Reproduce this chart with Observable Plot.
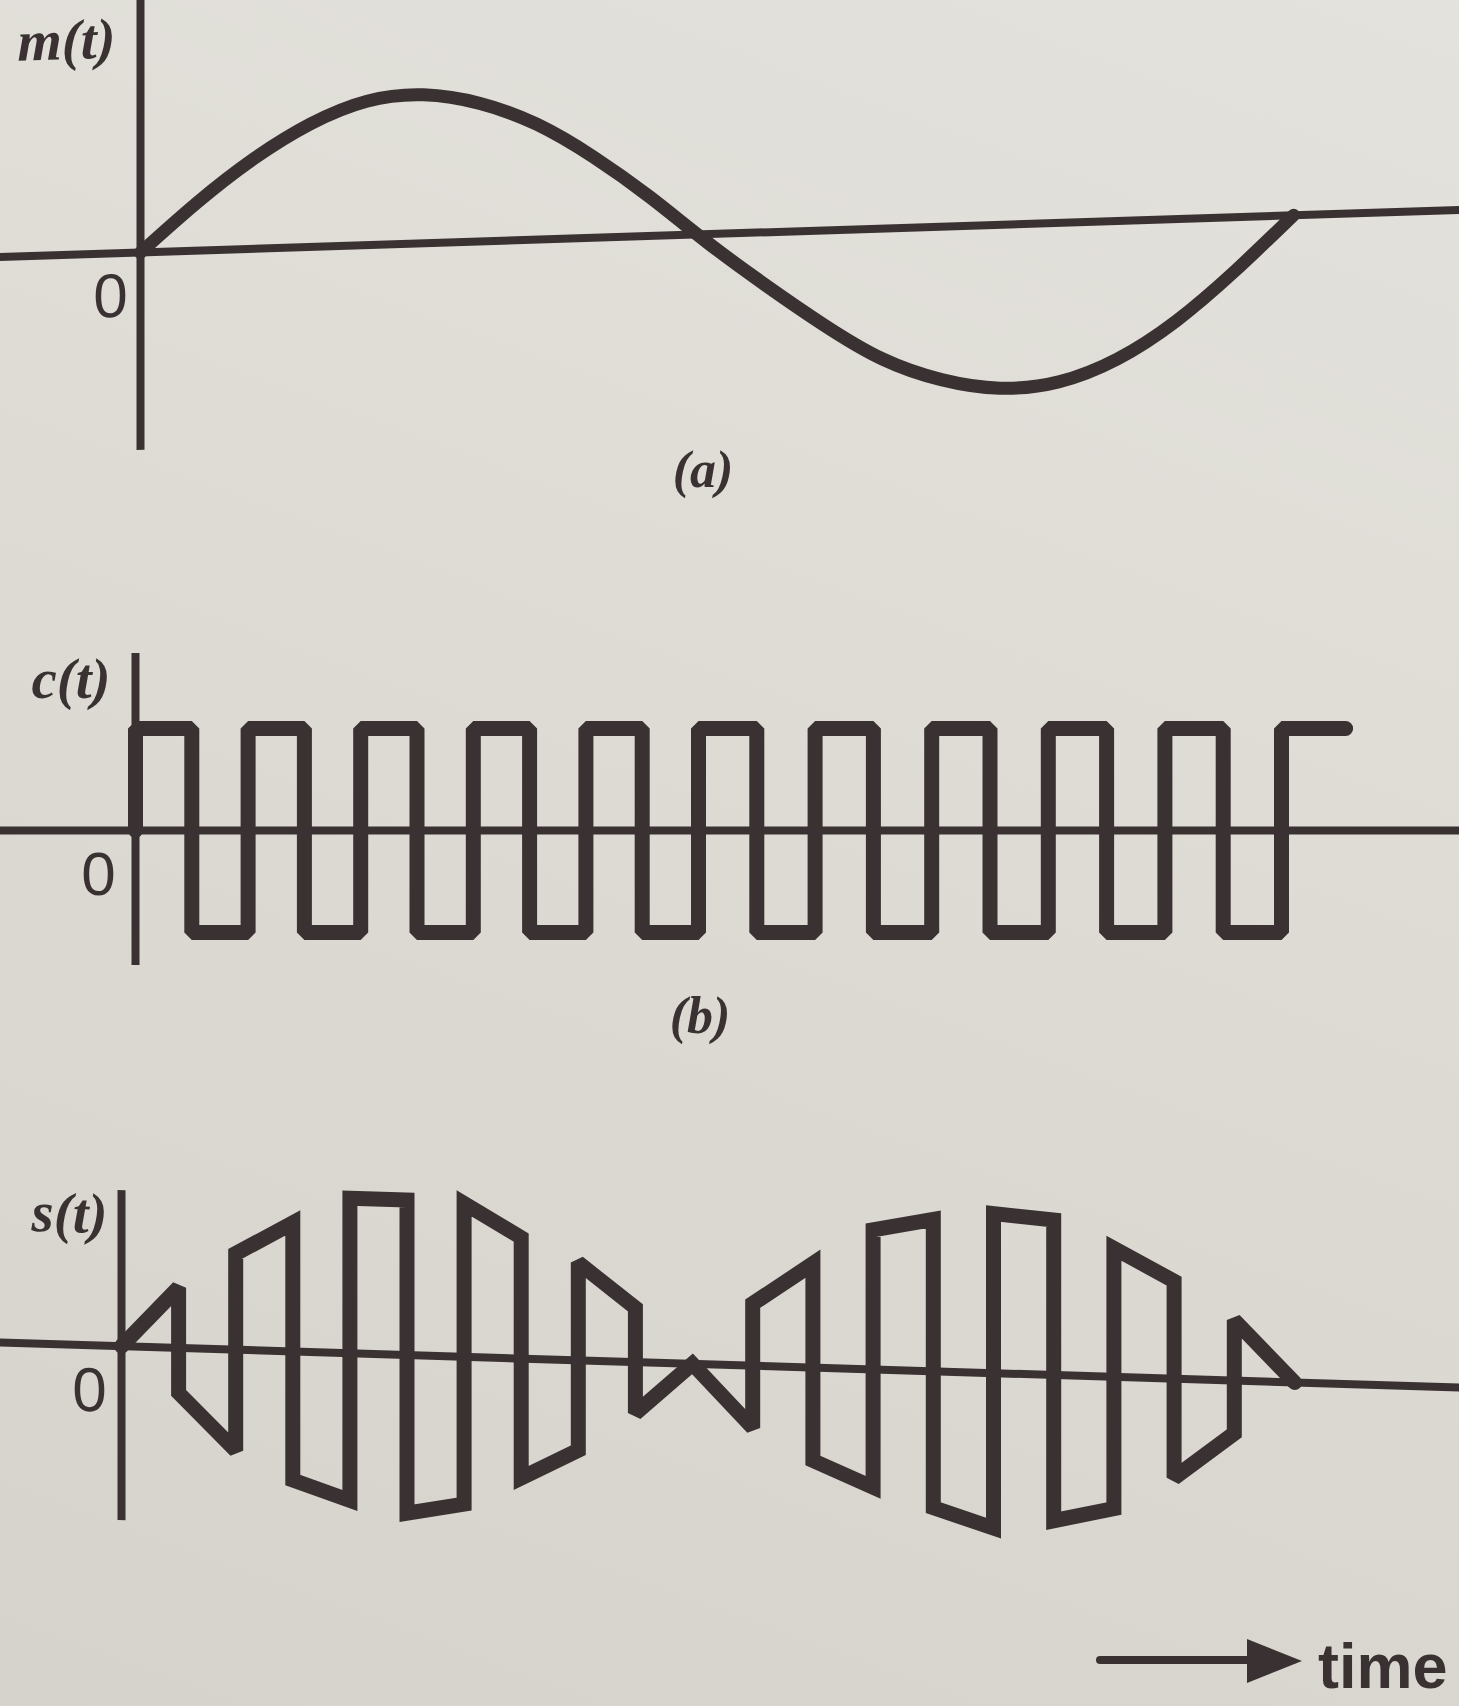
<!DOCTYPE html>
<html>
<head>
<meta charset="utf-8">
<script src="https://cdn.jsdelivr.net/npm/d3@7"></script>
<script src="https://cdn.jsdelivr.net/npm/@observablehq/plot@0.6"></script>
<style>
  html, body { margin: 0; padding: 0; }
  body { width: 1459px; height: 1706px; overflow: hidden; background: #dddbd4; }
  #fig {
    position: relative; width: 1459px; height: 1706px;
    background: linear-gradient(200deg, #e4e2dc 0%, #dddbd4 45%, #d5d3cb 100%);
  }
  .cap {
    position: absolute; transform: translate(-50%, -50%);
    font-family: "Liberation Serif", serif; font-style: italic; font-weight: bold;
    font-size: 52px; line-height: 1; color: #3a3232; white-space: nowrap;
  }
</style>
</head>
<body>
<div id="fig"></div>
<script>
// ---------------- data ----------------
// time is counted in carrier half-periods: 20 half-periods = one period of m(t)
const tSteps = d3.range(0, 21);
// (a) message m(t), read at every carrier half-period (1 = height of the positive lobe)
const mValues = [0, 0.32, 0.60, 0.82, 0.96, 0.99, 0.92, 0.77, 0.54, 0.26, -0.05,
                 -0.35, -0.63, -0.87, -1.02, -1.09, -1.06, -0.92, -0.68, -0.36, 0];
// (b) carrier c(t): level after each switching instant
const cEdges = d3.range(0, 21);
const cLevels = [1, -1, 1, -1, 1, -1, 1, -1, 1, -1, 1, -1, 1, -1, 1, -1, 1, -1, 1, -1, 1];
const cTailEnd = 21.1;
// (c) product s(t): value at the start and at the end of each half-period
const sHalf = d3.range(0, 20);
const sStart = [0, -0.29, 0.62, -0.83, 1.00, -1.02, 0.99, -0.77, 0.63, -0.33,
                0, 0.40, -0.60, 0.90, -0.88, 1.03, -0.94, 0.83, -0.64, 0.39];
const sEnd   = [0.39, -0.65, 0.83, -0.95, 1.00, -0.95, 0.78, -0.58, 0.35, 0,
                -0.40, 0.67, -0.76, 0.98, -1.00, 1.00, -0.85, 0.63, -0.34, 0];
// texts
const axisLabels = ["m(t)", "c(t)", "s(t)"];
const zeroTick = [0];
const captions = ["(a)", "(b)"];
const timeLabel = "time";

// ---------------- tables built from the arrays ----------------
const mData = tSteps.map((t, i) => ({t, v: mValues[i]}));
const cData = [{t: 0, v: 0}]
  .concat(cEdges.map((t, i) => ({t, v: cLevels[i]})))
  .concat([{t: cTailEnd, v: cLevels[cLevels.length - 1]}]);
const sData = sHalf.flatMap(k => [{t: k, v: sStart[k]}, {t: k + 1, v: sEnd[k]}]);

// ---------------- drawing ----------------
const W = 1459;
const INK = "#3a3232";
const AXIS_W = 8;
const fig = document.getElementById("fig");

// the photographed page is slightly foreshortened: the time scale is piecewise linear
function panel(cfg, dataMarks) {
  const pL = (cfg.x10 - cfg.x0) / 10, pR = (cfg.x20 - cfg.x10) / 10;
  const yPx = px => (cfg.y0 - px) / cfg.unit;
  const svg = Plot.plot({
    width: W,
    height: cfg.height,
    margin: 0,
    x: {type: "linear",
        domain: [-cfg.x0 / pL, 0, 10, 20, 20 + (W - cfg.x20) / pR],
        range: [0, cfg.x0, cfg.x10, cfg.x20, W], axis: null},
    y: {domain: [yPx(cfg.height), yPx(0)], range: [cfg.height, 0], axis: null},
    style: {background: "transparent", overflow: "visible"},
    marks: [
      Plot.ruleY(zeroTick, {y: d => d, stroke: INK, strokeWidth: AXIS_W}),
      Plot.ruleX(zeroTick, {x: d => d, y1: () => yPx(cfg.axisTop), y2: () => yPx(cfg.axisBottom),
                            stroke: INK, strokeWidth: AXIS_W}),
      ...dataMarks,
      Plot.text([cfg.label], {
        text: d => d, frameAnchor: "top-left", dx: cfg.labelRight, dy: cfg.labelMid,
        textAnchor: "end", lineAnchor: "middle",
        fontFamily: "Liberation Serif", fontStyle: "italic", fontWeight: "bold",
        fontSize: 57, fill: INK
      }),
      Plot.text(zeroTick, {
        x: d => d, y: d => d, text: d => String(d), dx: cfg.zeroDx, dy: cfg.zeroDy,
        textAnchor: "middle", lineAnchor: "middle",
        fontFamily: "Liberation Sans", fontSize: 62, fill: INK
      })
    ]
  });
  svg.style.position = "absolute";
  svg.style.left = "0px";
  svg.style.top = cfg.top + "px";
  svg.style.maxWidth = "none";
  svg.style.transformOrigin = `${cfg.x0}px ${cfg.y0}px`;
  svg.style.transform = `skewY(${cfg.skew}deg)`;
  fig.appendChild(svg);
}

// (a) m(t)
panel({top: 0, height: 470, x0: 140, x10: 706, x20: 1293, y0: 252, unit: 150,
       axisTop: 0, axisBottom: 450, skew: -1.85,
       label: axisLabels[0], labelRight: 115, labelMid: 38, zeroDx: -30, zeroDy: 44},
  [Plot.line(mData, {x: "t", y: "v", curve: "natural", stroke: INK, strokeWidth: 13,
                     strokeLinecap: "round", strokeLinejoin: "round"})]);

// (b) c(t)
panel({top: 600, height: 380, x0: 135, x10: 698, x20: 1281, y0: 230, unit: 102,
       axisTop: 53, axisBottom: 365, skew: 0,
       label: axisLabels[1], labelRight: 110, labelMid: 79, zeroDx: -37, zeroDy: 45},
  [Plot.line(cData, {x: "t", y: "v", curve: "step-after", stroke: INK, strokeWidth: 15,
                     strokeLinecap: "round", strokeLinejoin: "miter"})]);

// (c) s(t)
panel({top: 1160, height: 380, x0: 121, x10: 692, x20: 1294, y0: 185.7, unit: 155,
       axisTop: 30, axisBottom: 360, skew: 1.77,
       label: axisLabels[2], labelRight: 107, labelMid: 55, zeroDx: -32, zeroDy: 46},
  [Plot.line(sData, {x: "t", y: "v", curve: "linear", stroke: INK, strokeWidth: 15,
                     strokeLinecap: "round", strokeLinejoin: "miter", strokeMiterlimit: 2.2})]);

// captions
[[captions[0], 703, 470], [captions[1], 700, 1016]].forEach(([txt, cx, cy]) => {
  const d = document.createElement("div");
  d.className = "cap";
  d.textContent = txt;
  d.style.left = cx + "px";
  d.style.top = cy + "px";
  fig.appendChild(d);
});

// "→ time" note
const note = d3.select(fig).append("svg")
  .attr("width", 369).attr("height", 86)
  .style("position", "absolute").style("left", "1090px").style("top", "1620px");
note.append("line").attr("x1", 10).attr("y1", 40).attr("x2", 165).attr("y2", 40)
  .attr("stroke", INK).attr("stroke-width", 8).attr("stroke-linecap", "round");
note.append("polygon").attr("points", "157,19 212,41 157,63").attr("fill", INK);
note.append("text").attr("x", 228).attr("y", 68).text(timeLabel)
  .attr("font-family", "Liberation Sans").attr("font-weight", "bold")
  .attr("font-size", 63).attr("fill", INK);
</script>
</body>
</html>
